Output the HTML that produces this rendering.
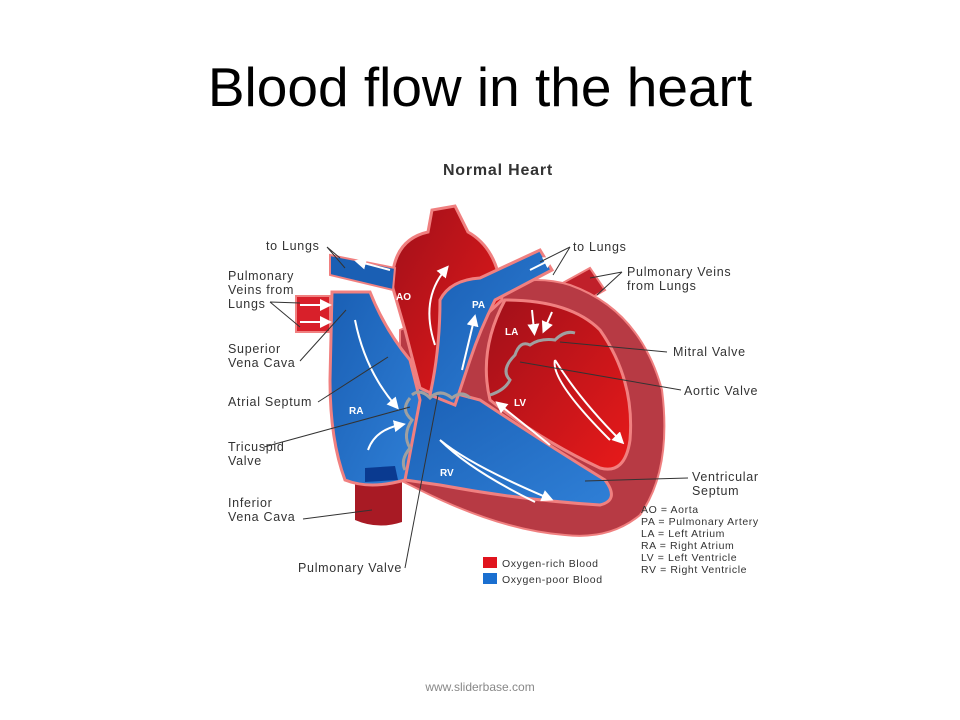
<!DOCTYPE html>
<html><head><meta charset="utf-8"><style>
html,body{margin:0;padding:0;background:#fff;}
body{width:960px;height:720px;overflow:hidden;position:relative;font-family:"Liberation Sans",sans-serif;}
.t{position:absolute;left:0;width:960px;text-align:center;}
</style></head><body>
<div class="t" style="top:55px;font-size:55px;color:#000;">Blood flow in the heart</div>
<div class="t" style="top:680px;font-size:12px;color:#888;">www.sliderbase.com</div>
<svg width="960" height="720" style="position:absolute;left:0;top:0" font-family="Liberation Sans, sans-serif">
<defs>
<marker id="ar" markerWidth="6" markerHeight="6" refX="3" refY="3" orient="auto"><path d="M0,0 L6,3 L0,6 z" fill="#fff"/></marker>
<linearGradient id="bl" x1="0" y1="0" x2="1" y2="1"><stop offset="0" stop-color="#1a5fb4"/><stop offset="1" stop-color="#2f7fd6"/></linearGradient>
<linearGradient id="rd" x1="0" y1="0" x2="1" y2="1"><stop offset="0" stop-color="#a0101a"/><stop offset="1" stop-color="#e81a1a"/></linearGradient>
</defs>
<text x="498" y="175" font-size="16" font-weight="bold" text-anchor="middle" fill="#333" letter-spacing="0.8">Normal Heart</text>
<path d="M550,290 L590,268 L605,290 L570,310 z" fill="#c0202a" stroke="#f08080" stroke-width="2"/>
<path d="M470,300 Q520,270 570,285 Q640,310 662,390 Q672,470 640,515 Q610,540 565,535 Q500,530 420,490 L400,480 L400,330 z" fill="#b73a44" stroke="#f08080" stroke-width="2"/>
<path d="M505,300 Q570,300 600,330 Q635,380 630,440 Q625,475 600,468 Q540,440 490,400 Q478,350 505,300 z" fill="url(#rd)" stroke="#f08080" stroke-width="3"/>
<path d="M355,470 L402,470 L402,522 Q378,530 355,520 z" fill="#a81a24"/>
<path d="M296,296 L330,296 L330,332 L296,332 z" fill="#d8202a" stroke="#f08080" stroke-width="2"/>
<path d="M405,380 L480,400 Q540,440 605,480 Q620,500 600,505 Q520,500 440,485 L405,480 z" fill="url(#bl)" stroke="#f08080" stroke-width="3"/>
<path d="M332,292 L370,292 Q385,330 410,360 L420,400 L405,480 Q370,490 345,480 Q330,440 330,380 z" fill="url(#bl)" stroke="#f08080" stroke-width="3"/>
<path d="M365,468 L395,466 L398,480 L365,482 z" fill="#0a3a90"/>
<path d="M392,285 Q392,240 428,232 L432,210 L455,206 L468,232 Q500,250 502,300 L470,330 L445,400 L420,388 L405,330 z" fill="url(#rd)" stroke="#f08080" stroke-width="3"/>
<path d="M440,300 Q450,280 480,278 L540,250 L552,270 L495,300 Q480,330 470,360 L455,405 L430,395 Q440,350 440,300 z" fill="url(#bl)" stroke="#f08080" stroke-width="3"/>
<path d="M330,255 L395,268 L393,290 L330,275 z" fill="#1a5fb4" stroke="#f08080" stroke-width="2"/>
<path d="M412,395 Q420,388 430,398 Q440,388 452,398 Q462,390 470,398" fill="none" stroke="#a0a0a0" stroke-width="3"/>
<path d="M410,398 Q400,410 412,420 Q402,435 410,448 Q400,460 405,470" fill="none" stroke="#a0a0a0" stroke-width="3"/>
<path d="M490,395 Q505,390 510,380 Q500,370 515,355 Q520,340 530,345 Q540,338 555,340 Q565,330 575,333" fill="none" stroke="#a0a0a0" stroke-width="3"/>
<g fill="none" stroke="#fff" stroke-width="2" marker-end="url(#ar)">
<path d="M435,345 Q420,300 445,270"/>
<path d="M462,370 L474,320"/>
<path d="M355,320 Q365,370 395,405"/>
<path d="M368,450 Q375,430 400,425"/>
<path d="M610,440 Q550,380 555,360 M555,360 Q580,400 620,440"/>
<path d="M550,445 L500,405"/>
<path d="M535,502 Q470,470 440,440 Q470,465 548,498"/>
<path d="M530,270 L550,260"/>
<path d="M390,270 L360,262"/>
<path d="M300,305 L326,305"/><path d="M300,322 L326,322"/>
<path d="M532,310 L534,330"/><path d="M552,312 L545,328"/>
</g>
<g font-size="10" font-weight="bold" fill="#fff">
<text x="396" y="300">AO</text><text x="472" y="308">PA</text><text x="505" y="335">LA</text>
<text x="349" y="414">RA</text><text x="514" y="406">LV</text><text x="440" y="476">RV</text>
</g>
<g stroke="#333" stroke-width="1" fill="none">
<path d="M327,247 L340,258 M327,247 L345,268"/>
<path d="M270,302 L300,303 M270,302 L300,327"/>
<path d="M300,361 L346,310"/>
<path d="M318,402 L388,357"/>
<path d="M264,447 L410,407"/>
<path d="M303,519 L372,510"/>
<path d="M405,568 L438,395"/>
<path d="M570,247 L540,262 M570,247 L553,275"/>
<path d="M622,272 L590,278 M622,272 L597,295"/>
<path d="M667,352 L560,342"/>
<path d="M681,390 L520,362"/>
<path d="M688,478 L585,481"/>
</g>
<g font-size="12.5" fill="#333" letter-spacing="0.7">
<text x="266" y="250">to Lungs</text>
<text x="228" y="280">Pulmonary</text><text x="228" y="294">Veins from</text><text x="228" y="308">Lungs</text>
<text x="228" y="353">Superior</text><text x="228" y="367">Vena Cava</text>
<text x="228" y="406">Atrial Septum</text>
<text x="228" y="451">Tricuspid</text><text x="228" y="465">Valve</text>
<text x="228" y="507">Inferior</text><text x="228" y="521">Vena Cava</text>
<text x="298" y="572">Pulmonary Valve</text>
<text x="573" y="251">to Lungs</text>
<text x="627" y="276">Pulmonary Veins</text><text x="627" y="290">from Lungs</text>
<text x="673" y="356">Mitral Valve</text>
<text x="684" y="395">Aortic Valve</text>
<text x="692" y="481">Ventricular</text><text x="692" y="495">Septum</text>
</g>
<rect x="483" y="557" width="14" height="11" fill="#e0141e"/>
<rect x="483" y="573" width="14" height="11" fill="#1a6fd0"/>
<g font-size="10.5" fill="#333" letter-spacing="0.6">
<text x="502" y="567">Oxygen-rich Blood</text><text x="502" y="583">Oxygen-poor Blood</text>
<text x="641" y="513">AO = Aorta</text>
<text x="641" y="525">PA = Pulmonary Artery</text>
<text x="641" y="537">LA = Left Atrium</text>
<text x="641" y="549">RA = Right Atrium</text>
<text x="641" y="561">LV = Left Ventricle</text>
<text x="641" y="573">RV = Right Ventricle</text>
</g>
</svg>
</body></html>
